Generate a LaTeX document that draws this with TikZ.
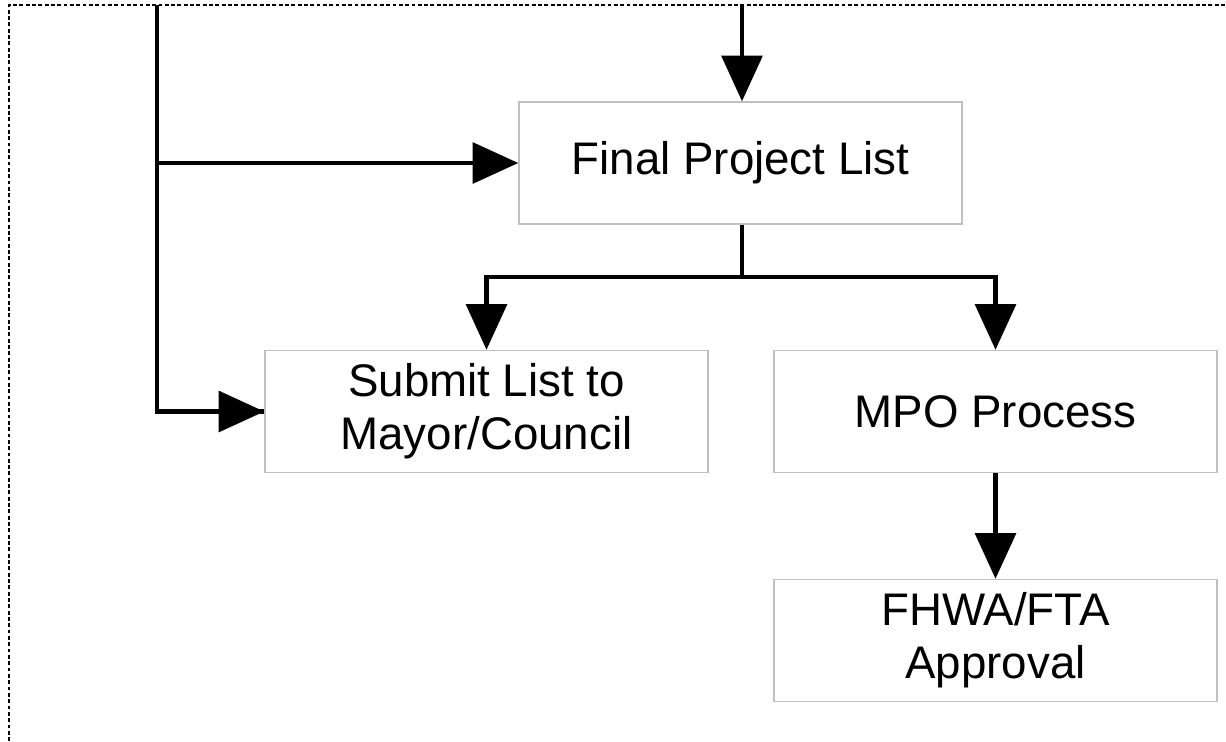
\documentclass[tikz,border=0pt]{standalone}
\usepackage{fontspec}
\setmainfont{Liberation Sans}
\usetikzlibrary{arrows.meta}
\definecolor{boxgray}{RGB}{192,192,192}
\begin{document}
\begin{tikzpicture}[x=0.02cm, y=-0.02cm,
	box/.style={draw=boxgray, line width=0.8pt, minimum width=8.86cm, minimum height=2.44cm, inner sep=0pt, align=center, font=\fontsize{26}{30}\selectfont},
	flow/.style={line width=2.8pt},
	flowarrow/.style={flow, -{Triangle[length=26pt, width=23pt]}}]
	\useasboundingbox (0,0) rectangle (1226,741);
	% frame
	\draw[line width=0.9pt, dash pattern=on 2.2pt off 1.4pt] (9,741) -- (9,5) -- (1226,5);
	\node[box] (final) at (740.5,163) {Final Project List};
	\node[box] (submit) at (486.5,411.5) {Submit List to\\Mayor/Council};
	\node[box] (mpo) at (995.5,411.5) {MPO Process};
	\node[box] (fhwa) at (995.5,640.5) {FHWA/FTA\\Approval};
	\coordinate (topin) at (742,5);
	\coordinate (leftin) at (157,5);
	\coordinate (split) at (742,277);
	\draw[flowarrow] (topin) -- (final.north -| topin);
	\draw[flow] (leftin) |- (submit.west);
	\draw[flowarrow] (leftin |- final.west) -- (final.west);
	\draw[flowarrow] (leftin |- submit.west) -- (submit.west);
	\draw[flow] (final.south -| split) -- (split);
	\draw[flowarrow] (split) -| (submit.north);
	\draw[flowarrow] (split) -| (mpo.north);
	\draw[flowarrow] (mpo.south) -- (fhwa.north);
\end{tikzpicture}
\end{document}
